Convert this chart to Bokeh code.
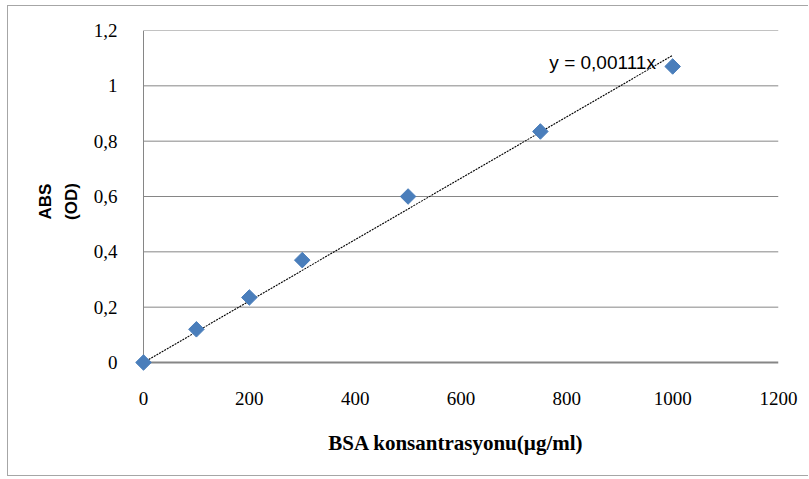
import numpy as np
from bokeh.plotting import figure
from bokeh.models import FixedTicker, Range1d, Label
from bokeh.embed import file_html
from bokeh.resources import INLINE

# ---- data ----
x_conc = [0, 100, 200, 300, 500, 750, 1000]          # BSA, µg/ml
abs_od = [0.0, 0.12, 0.235, 0.37, 0.60, 0.835, 1.07]  # ABS (OD)
slope = 0.00111
trend_x = [0, 1000]
trend_y = [slope * v for v in trend_x]
equation_text = "y = 0,00111x"

x_ticks = [0, 200, 400, 600, 800, 1000, 1200]
y_ticks = [0, 0.2, 0.4, 0.6, 0.8, 1, 1.2]
y_tick_labels = ["0", "0,2", "0,4", "0,6", "0,8", "1", "1,2"]

X_MAX, Y_MAX = 1200, 1.2
# small padding (in px) so that the marker at the origin is not clipped
PAD = 10
FRAME_W, FRAME_H = 645, 342  # incl. padding
x_start = -X_MAX * PAD / (FRAME_W - PAD)
y_start = -Y_MAX * PAD / (FRAME_H - PAD)

p = figure(width=801, height=471, output_backend="svg", toolbar_location=None,
           x_range=Range1d(x_start, X_MAX), y_range=Range1d(y_start, Y_MAX),
           min_border_left=125, min_border_right=31,
           min_border_top=24, min_border_bottom=105)
p.margin = (5, 0, 0, 7)
p.styles = {"border-left": "1px solid #a6a6a6", "border-top": "1px solid #a6a6a6",
            "border-bottom": "1px solid #a6a6a6"}
p.outline_line_color = None
p.background_fill_color = "white"
p.border_fill_color = "white"

# no built-in grid; horizontal gridlines drawn from 0 to X_MAX
p.xgrid.grid_line_color = None
p.ygrid.grid_line_color = None
grid_y = [t for t in y_ticks if t > 0]
p.segment(x0=[0] * len(grid_y), x1=[X_MAX] * len(grid_y), y0=grid_y, y1=grid_y,
          line_color="#868686", line_width=1)
# axis lines
p.segment(x0=[0], x1=[0], y0=[0], y1=[Y_MAX], line_color="#868686", line_width=1)
p.segment(x0=[0], x1=[X_MAX], y0=[0], y1=[0], line_color="#868686", line_width=2)

# axes (labels only)
p.xaxis.ticker = FixedTicker(ticks=x_ticks)
p.yaxis.ticker = FixedTicker(ticks=y_ticks)
p.yaxis.major_label_overrides = {t: l for t, l in zip(y_ticks, y_tick_labels)}
for ax in (p.xaxis[0], p.yaxis[0]):
    ax.major_tick_line_color = None
    ax.minor_tick_line_color = None
    ax.axis_line_color = None
    ax.major_label_text_font = "Liberation Serif"
    ax.major_label_text_font_size = "19px"
    ax.major_label_text_color = "black"
p.xaxis.major_label_standoff = 13
p.yaxis.major_label_standoff = 10

p.xaxis.axis_label = "BSA konsantrasyonu(µg/ml)"
p.xaxis.axis_label_text_font = "Liberation Serif"
p.xaxis.axis_label_text_font_style = "bold"
p.xaxis.axis_label_text_font_size = "21px"
p.xaxis.axis_label_text_color = "black"
p.xaxis.axis_label_standoff = 23

p.yaxis.axis_label = "ABS\n(OD)"
p.yaxis.axis_label_text_font = "Liberation Sans"
p.yaxis.axis_label_text_font_style = "bold"
p.yaxis.axis_label_text_font_size = "17px"
p.yaxis.axis_label_text_color = "black"
p.yaxis.axis_label_text_line_height = 1.38
p.yaxis.axis_label_standoff = 10

# trendline
p.line(trend_x, trend_y, line_color="black", line_width=1.1, line_dash="2 1")

# data points (diamonds)
p.scatter(x_conc, abs_od, marker="square", angle=np.pi / 4, size=11,
          fill_color="#4a7ebb", line_color="#4a7ebb")

p.add_layout(Label(x=767, y=1.084, text=equation_text, text_font="Liberation Sans",
                   text_font_size="19px", text_color="black", text_baseline="middle",
                   text_align="left"))

open("out.html", "w").write(file_html(p, INLINE))
